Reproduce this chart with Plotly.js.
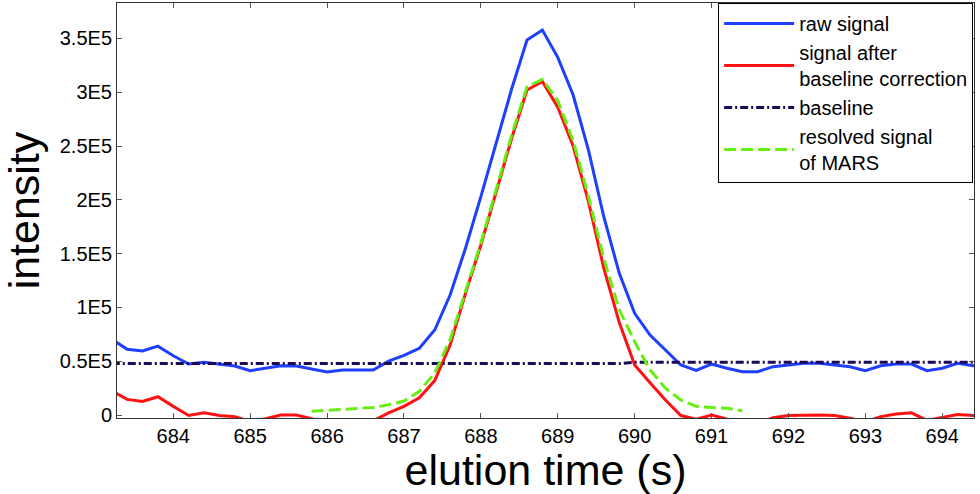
<!DOCTYPE html>
<html>
<head>
<meta charset="utf-8">
<script src="https://cdn.plot.ly/plotly-3.0.1.min.js"></script>
<style>html,body{margin:0;padding:0;background:#fff;}#chart{width:980px;height:494px;}</style>
</head>
<body>
<div id="chart"></div>
<script>
// elution time grid (s)
var timeRaw = [683.2,683.4,683.6,683.8,684.0,684.2,684.4,684.6,684.8,685.0,685.2,685.4,685.6,685.8,686.0,686.2,686.4,686.6,686.8,687.0,687.2,687.4,687.6,687.8,688.0,688.2,688.4,688.6,688.8,689.0,689.2,689.4,689.6,689.8,690.0,690.2,690.4,690.6,690.8,691.0,691.2,691.4,691.6,691.8,692.0,692.2,692.4,692.6,692.8,693.0,693.2,693.4,693.6,693.8,694.0,694.2,694.4,694.6];
// raw signal
var rawSignal = [70500,61000,59500,64000,55000,47400,49000,47400,45500,41200,43400,45800,45500,42500,40000,41800,41800,41800,50000,55500,62000,79000,111500,155000,203000,253000,303000,348500,357800,332400,297400,246000,184000,131700,94500,74300,60000,46500,41500,47400,43400,40300,40300,44900,46500,48000,48000,46500,44900,41200,45800,47400,47400,41200,43400,48000,45800,46000];
// signal after baseline correction
var corrSignal = [22500,14500,12500,17000,8000,-500,2000,-500,-1500,-6000,-3500,0,0,-3500,-7000,-5500,-5500,-5500,2000,8000,16000,32000,65000,113000,158000,207000,257000,302000,310000,286000,250000,198000,136000,86000,46500,30000,14000,-500,-4000,0,-4000,-7500,-7500,-2500,-500,0,0,-500,-3000,-6500,-1500,1000,2000,-5000,-2500,500,-500,-500];
// baseline
var baseline = [47800,47800,47800,47800,47800,47800,47800,47800,47800,47800,47800,47800,47800,47800,47800,47800,47800,47800,47800,47800,47800,47800,47800,47800,47800,47800,47800,47800,47800,47800,47800,47800,47800,47800,49000,49000,49000,49000,49000,49000,49000,49000,49000,49000,49000,49000,49000,49000,49000,49000,49000,49000,49000,49000,49000,49000,49000,49000];
// resolved signal of MARS
var timeMars = [685.8,686.0,686.2,686.4,686.6,686.8,687.0,687.2,687.4,687.6,687.8,688.0,688.2,688.4,688.6,688.8,689.0,689.2,689.4,689.6,689.8,690.0,690.2,690.4,690.6,690.8,691.0,691.2,691.4];
var marsSignal = [3500,4500,5000,6000,7000,9500,13000,22000,39000,70000,115000,160000,210000,260000,305000,312000,292000,255000,203000,145000,98000,68000,42000,25000,14000,8000,7000,6200,4000];
// axis ticks
var xTickVals = [684,685,686,687,688,689,690,691,692,693,694];
var yTickVals = [0,50000,100000,150000,200000,250000,300000,350000];
var yTickText = ['0','0.5E5','1E5','1.5E5','2E5','2.5E5','3E5','3.5E5'];

var FONT = 'Liberation Sans, Arial, sans-serif';
var traces = [
  {x: timeRaw, y: rawSignal, type: 'scatter', mode: 'lines', name: 'raw signal',
   line: {color: '#1f3fff', width: 3}},
  {x: timeRaw, y: corrSignal, type: 'scatter', mode: 'lines', name: 'signal after<br>baseline correction',
   line: {color: '#ff1111', width: 3}},
  {x: timeRaw, y: baseline, type: 'scatter', mode: 'lines', name: 'baseline',
   line: {color: '#1c0a55', width: 3, dash: '8px,3px,2px,3px'}},
  {x: timeMars, y: marsSignal, type: 'scatter', mode: 'lines', name: 'resolved signal<br>of MARS',
   line: {color: '#66ee11', width: 3, dash: '12px,5px'}}
];
var layout = {
  width: 980, height: 494,
  margin: {l: 117, r: 6, t: 3, b: 76},
  paper_bgcolor: '#fff', plot_bgcolor: '#fff',
  font: {family: FONT, color: '#000', size: 20},
  showlegend: true,
  legend: {x: 0.999, xanchor: 'right', y: 1.0, yanchor: 'top',
           bgcolor: '#fff', bordercolor: '#000', borderwidth: 1,
           font: {family: FONT, size: 20, color: '#000'}, itemwidth: 70},
  xaxis: {range: [683.268, 694.413], tickmode: 'array', tickvals: xTickVals,
          ticks: 'inside', ticklen: 5, tickcolor: '#555', showline: true, linecolor: '#333', linewidth: 1,
          mirror: 'ticks', showgrid: false, zeroline: false,
          tickfont: {family: FONT, size: 20, color: '#000'},
          title: {text: 'elution time (s)', font: {family: FONT, size: 43, color: '#000'}, standoff: 8}},
  yaxis: {range: [-2790, 382900], tickmode: 'array', tickvals: yTickVals, ticktext: yTickText,
          ticks: 'inside', ticklen: 5, tickcolor: '#555', showline: true, linecolor: '#333', linewidth: 1,
          mirror: 'ticks', showgrid: false, zeroline: false,
          tickfont: {family: FONT, size: 20, color: '#000'},
          title: {text: 'intensity', font: {family: FONT, size: 43, color: '#000'}, standoff: 14}}
};
Plotly.newPlot('chart', traces, layout, {displayModeBar: false, responsive: false});
</script>
</body>
</html>
